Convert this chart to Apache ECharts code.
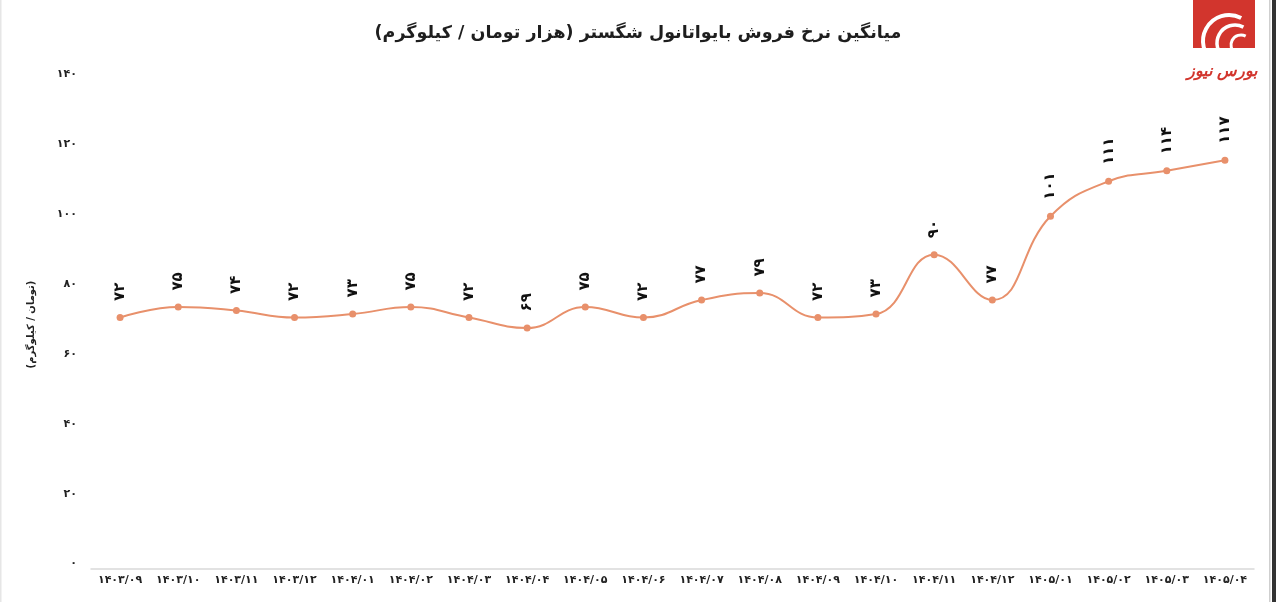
<!DOCTYPE html>
<html><head><meta charset="utf-8">
<script src="https://cdn.jsdelivr.net/npm/echarts@6/dist/echarts.min.js"></script>
<style>html,body{margin:0;padding:0;background:#fff}#c{width:1276px;height:602px}</style>
</head><body><div id="c"></div>
<script>
const titleText = '\u200Fمیانگین نرخ فروش بایواتانول شگستر (هزار تومان / کیلوگرم)\u200F';
const yAxisName = '\u200F(تومان / کیلوگرم)\u200F';
const logoText = 'بورس نیوز';
const categories = ['۱۴۰۳/۰۹','۱۴۰۳/۱۰','۱۴۰۳/۱۱','۱۴۰۳/۱۲','۱۴۰۴/۰۱','۱۴۰۴/۰۲','۱۴۰۴/۰۳','۱۴۰۴/۰۴','۱۴۰۴/۰۵','۱۴۰۴/۰۶','۱۴۰۴/۰۷','۱۴۰۴/۰۸','۱۴۰۴/۰۹','۱۴۰۴/۱۰','۱۴۰۴/۱۱','۱۴۰۴/۱۲','۱۴۰۵/۰۱','۱۴۰۵/۰۲','۱۴۰۵/۰۳','۱۴۰۵/۰۴'];
const values = [72,75,74,72,73,75,72,69,75,72,77,79,72,73,90,77,101,111,114,117];
const yMin = 0, yMax = 140, yStep = 20;

const faDigits = '۰۱۲۳۴۵۶۷۸۹';
function toFa(v){ return String(v).replace(/[0-9]/g, d => faDigits[+d]); }

const FONT = '"DejaVu Sans", sans-serif';
const chart = echarts.init(document.getElementById('c'));
chart.setOption({
  backgroundColor: '#ffffff',
  animation: false,
  textStyle: { fontFamily: FONT },
  title: {
    text: titleText, left: 'center', top: 19,
    textStyle: { fontFamily: FONT, fontSize: 17.5, fontWeight: 'bold', color: '#1e1e1e' }
  },
  grid: { left: 91, right: 22, top: 80, bottom: 33 },
  xAxis: {
    type: 'category', data: categories, boundaryGap: true,
    axisLine: { show: true, lineStyle: { color: '#d9d9d9', width: 1.5 } },
    axisTick: { show: false },
    axisLabel: { interval: 0, margin: 6, fontSize: 11, fontWeight: 'bold', color: '#222', fontFamily: FONT },
    splitLine: { show: false }
  },
  yAxis: {
    type: 'value', min: yMin, max: yMax, interval: yStep,
    name: yAxisName, nameLocation: 'middle', nameGap: 55,
    nameTextStyle: { fontFamily: FONT, fontSize: 10, fontWeight: 'bold', color: '#222' },
    axisLine: { show: false }, axisTick: { show: false }, splitLine: { show: false },
    axisLabel: { margin: 14, verticalAlign: 'bottom', fontSize: 11, fontWeight: 'bold', color: '#222', fontFamily: FONT, formatter: v => toFa(v) }
  },
  series: [{
    type: 'line', data: values, smooth: 0.45,
    symbol: 'circle', symbolSize: 7,
    itemStyle: { color: '#E8906B' },
    lineStyle: { color: '#E8906B', width: 2 },
    label: {
      show: true, position: 'top', distance: 13, rotate: 90,
      align: 'left', verticalAlign: 'middle',
      fontSize: 15, fontWeight: 'bold', color: '#111', fontFamily: FONT,
      formatter: p => toFa(p.value)
    }
  }],
  graphic: [
    { type: 'rect', shape: { x: 1193, y: 0, width: 62, height: 48 }, style: { fill: '#D2352D' } },
    { type: 'arc', shape: { cx: 1229, cy: 41, r: 26, startAngle: 5.2, endAngle: 2.2, clockwise: false }, style: { stroke: '#fff', lineWidth: 4, fill: null } },
    { type: 'arc', shape: { cx: 1235, cy: 43, r: 18, startAngle: 5.2, endAngle: 2.2, clockwise: false }, style: { stroke: '#fff', lineWidth: 3.5, fill: null } },
    { type: 'arc', shape: { cx: 1241, cy: 45, r: 10, startAngle: 5.2, endAngle: 2.2, clockwise: false }, style: { stroke: '#fff', lineWidth: 3, fill: null } },
    { type: 'rect', shape: { x: 1193, y: 48, width: 70, height: 12 }, style: { fill: '#fff' } },
    { type: 'text', style: { text: logoText, x: 1222, y: 72, align: 'center', verticalAlign: 'middle', fill: '#D2352D', font: 'italic bold 16px "DejaVu Serif", serif' } },
    { type: 'rect', shape: { x: 1269, y: 0, width: 1.5, height: 602 }, style: { fill: '#cfcfcf' } },
    { type: 'rect', shape: { x: 1272, y: 0, width: 4, height: 602 }, style: { fill: '#333' } },
    { type: 'rect', shape: { x: 0, y: 0, width: 1.5, height: 602 }, style: { fill: '#e6e6e6' } }
  ]
});
</script>
</body></html>
